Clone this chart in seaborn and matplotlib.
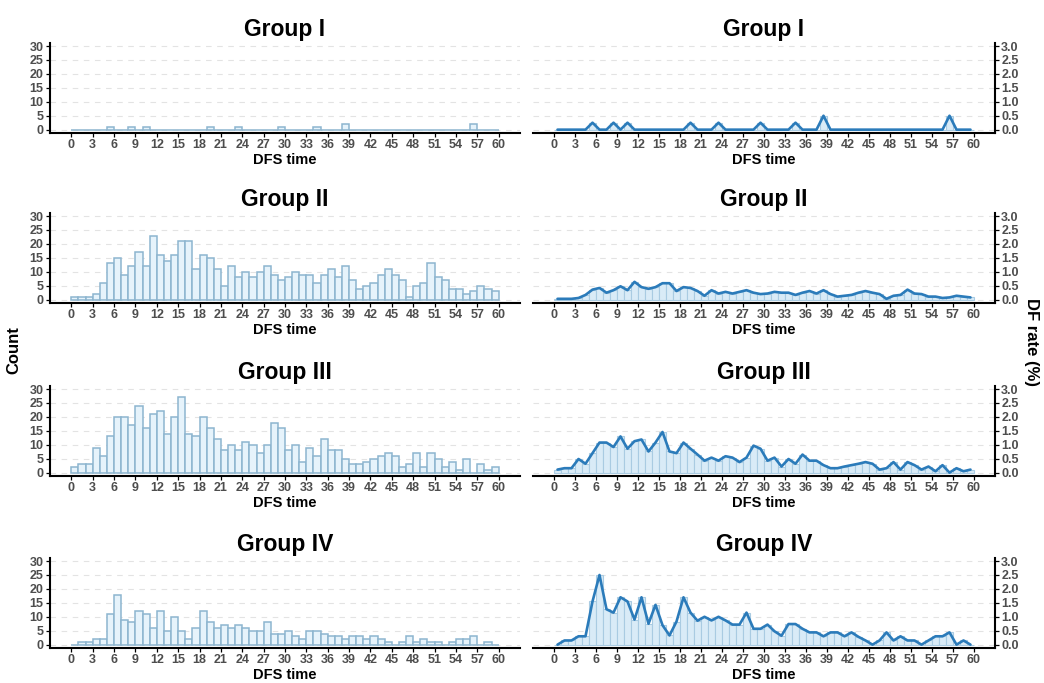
import numpy as np
import pandas as pd
import matplotlib
matplotlib.use("Agg")
import matplotlib.pyplot as plt
import seaborn as sns

sns.set_theme(style="white")
plt.rcParams['font.family'] = ['Liberation Sans', 'DejaVu Sans']
plt.rcParams['text.color'] = 'black'
plt.rcParams['axes.labelcolor'] = 'black'
plt.rcParams['axes.titlecolor'] = 'black'

groups = ["Group I", "Group II", "Group III", "Group IV"]
months = list(range(60))  # month bins [m, m+1)

count_I = [0, 0, 0, 0, 0, 1, 0, 0, 1, 0, 1, 0, 0, 0, 0, 0, 0, 0, 0, 1,
           0, 0, 0, 1, 0, 0, 0, 0, 0, 1, 0, 0, 0, 0, 1, 0, 0, 0, 2, 0,
           0, 0, 0, 0, 0, 0, 0, 0, 0, 0, 0, 0, 0, 0, 0, 0, 2, 0, 0, 0]
count_II = [1, 1, 1, 2, 6, 13, 15, 9, 12, 17, 12, 23, 16, 14, 16, 21, 21, 11, 16, 15,
            11, 5, 12, 8, 10, 8, 10, 12, 9, 7, 8, 10, 9, 9, 6, 9, 11, 8, 12, 7,
            4, 5, 6, 9, 11, 9, 7, 1, 5, 6, 13, 8, 7, 4, 4, 2, 3, 5, 4, 3]
count_III = [2, 3, 3, 9, 6, 13, 20, 20, 17, 24, 16, 21, 22, 14, 20, 27, 14, 13, 20, 16,
             12, 8, 10, 8, 11, 10, 7, 10, 18, 16, 8, 10, 4, 9, 6, 12, 8, 8, 5, 3,
             3, 4, 5, 6, 7, 6, 2, 3, 7, 2, 7, 5, 2, 4, 1, 5, 0, 3, 1, 2]
count_IV = [0, 1, 1, 2, 2, 11, 18, 9, 8, 12, 11, 6, 12, 5, 10, 5, 2, 6, 12, 8,
            6, 7, 6, 7, 6, 5, 5, 8, 4, 4, 5, 3, 2, 5, 5, 4, 3, 3, 2, 3,
            3, 2, 3, 2, 1, 0, 1, 3, 1, 2, 1, 1, 0, 1, 2, 2, 3, 0, 1, 0]

rate_I = [0, 0, 0, 0, 0, 0.25, 0, 0, 0.25, 0, 0.25, 0, 0, 0, 0, 0, 0, 0, 0, 0.25,
          0, 0, 0, 0.25, 0, 0, 0, 0, 0, 0.25, 0, 0, 0, 0, 0.25, 0, 0, 0, 0.5, 0,
          0, 0, 0, 0, 0, 0, 0, 0, 0, 0, 0, 0, 0, 0, 0, 0, 0.5, 0, 0, 0]
rate_II = [0.03, 0.03, 0.03, 0.06, 0.17, 0.36, 0.42, 0.25, 0.34, 0.48, 0.34, 0.64, 0.45, 0.39, 0.45,
           0.59, 0.59, 0.31, 0.45, 0.42, 0.31, 0.14, 0.34, 0.22, 0.28, 0.22, 0.28, 0.34, 0.25, 0.20,
           0.22, 0.28, 0.25, 0.25, 0.17, 0.25, 0.31, 0.22, 0.34, 0.20, 0.11, 0.14, 0.17, 0.25, 0.31,
           0.25, 0.20, 0.03, 0.14, 0.17, 0.36, 0.22, 0.20, 0.11, 0.11, 0.06, 0.08, 0.14, 0.11, 0.08]
rate_III = [0.11, 0.16, 0.16, 0.49, 0.32, 0.70, 1.08, 1.08, 0.92, 1.30, 0.86, 1.13, 1.19, 0.76, 1.08,
            1.46, 0.76, 0.70, 1.08, 0.86, 0.65, 0.43, 0.54, 0.43, 0.59, 0.54, 0.38, 0.54, 0.97, 0.86,
            0.43, 0.54, 0.22, 0.49, 0.32, 0.65, 0.43, 0.43, 0.27, 0.16, 0.16, 0.22, 0.27, 0.32, 0.38,
            0.32, 0.11, 0.16, 0.38, 0.11, 0.38, 0.27, 0.11, 0.22, 0.05, 0.27, 0.0, 0.16, 0.05, 0.11]
rate_IV = [0.0, 0.15, 0.15, 0.30, 0.30, 1.55, 2.50, 1.27, 1.15, 1.70, 1.55, 0.90, 1.70, 0.75, 1.43,
           0.70, 0.33, 0.83, 1.70, 1.15, 0.86, 1.00, 0.87, 1.00, 0.87, 0.72, 0.72, 1.15, 0.57, 0.57,
           0.72, 0.48, 0.32, 0.74, 0.74, 0.57, 0.44, 0.44, 0.30, 0.44, 0.44, 0.30, 0.44, 0.28, 0.15,
           0.0, 0.15, 0.44, 0.15, 0.30, 0.15, 0.15, 0.0, 0.15, 0.30, 0.30, 0.44, 0.0, 0.15, 0.0]

counts = [count_I, count_II, count_III, count_IV]
rates = [rate_I, rate_II, rate_III, rate_IV]

x_ticks = list(range(0, 61, 3))
count_ticks = [0, 5, 10, 15, 20, 25, 30]
rate_ticks = [0.0, 0.5, 1.0, 1.5, 2.0, 2.5, 3.0]

W, H = 1044, 683
fig = plt.figure(figsize=(W / 100, H / 100), dpi=100)

tops = [43, 213, 386, 558]
ax_h = 90
left_x = (50, 520)
right_x = (533, 995)

tick_color = "#4d4d4d"
bar_fill = "#e6f3fb"
bar_edge = "#8db5cf"
rbar_fill = "#d9ebf7"
rbar_edge = "#a9cbe2"
line_color = "#2b7bba"
grid_color = "#e3e3e3"


def make_ax(xr, top):
    return fig.add_axes([xr[0] / W, 1 - (top + ax_h) / H, (xr[1] - xr[0]) / W, ax_h / H])


def style(ax, yticks, ylim, side):
    ax.set_xlim(-3, 63)
    ax.set_ylim(*ylim)
    ax.set_xticks(x_ticks)
    ax.set_yticks(yticks)
    for y in yticks:
        ax.axhline(y, color=grid_color, lw=0.8, ls=(0, (5, 5)), zorder=0)
    for s in ax.spines.values():
        s.set_visible(False)
    ax.spines["bottom"].set_visible(True)
    ax.spines["bottom"].set_color("black")
    ax.spines["bottom"].set_linewidth(1.5)
    ax.spines[side].set_visible(True)
    ax.spines[side].set_color("black")
    ax.spines[side].set_linewidth(1.5)
    ax.tick_params(axis="both", which="both", length=3, width=0.9, color="black",
                   labelsize=9, labelcolor=tick_color, pad=1.5)
    ax.tick_params(axis="x", bottom=True)
    if side == "right":
        ax.yaxis.tick_right()
        ax.tick_params(axis="y", right=True, left=False)
    else:
        ax.tick_params(axis="y", left=True)
    for lab in ax.get_xticklabels() + ax.get_yticklabels():
        lab.set_fontweight("bold")
    ax.set_xlabel("DFS time", fontsize=10.5, fontweight="bold", labelpad=1, color="black")
    ax.set_ylabel("")
    ax.set_facecolor("white")


for i, g in enumerate(groups):
    df = pd.DataFrame({"month": [m + 0.5 for m in months], "count": counts[i], "rate": rates[i]})
    # Left: counts
    axl = make_ax(left_x, tops[i])
    sns.histplot(data=df, x="month", weights="count", bins=list(range(0, 61)), ax=axl,
                 color=bar_fill, edgecolor=bar_edge, linewidth=1.1, alpha=1, zorder=2)
    style(axl, count_ticks, (-1.2, 31.1), "left")
    axl.set_title(g, fontsize=16.5, fontweight="bold", pad=5, color="black")

    # Right: DF rate
    axr = make_ax(right_x, tops[i])
    sns.histplot(data=df, x="month", weights="rate", bins=list(range(0, 61)), ax=axr,
                 color=rbar_fill, edgecolor=rbar_edge, linewidth=0.8, alpha=1, zorder=2)
    sns.lineplot(data=df, x="month", y="rate", ax=axr, color=line_color, lw=1.9, zorder=3,
                 solid_joinstyle="round", solid_capstyle="round")
    style(axr, rate_ticks, (-0.12, 3.11), "right")
    axr.set_yticklabels([f"{t:.1f}" for t in rate_ticks], fontweight="bold")
    axr.set_title(g, fontsize=16.5, fontweight="bold", pad=5, color="black")

fig.text(14 / W, 1 - 350 / H, "Count", rotation=90, ha="center", va="center",
         fontsize=12, fontweight="bold", color="black")
fig.text(1031 / W, 1 - 342 / H, "DF rate (%)", rotation=-90, ha="center", va="center",
         fontsize=12, fontweight="bold", color="black")

fig.savefig("out.png", dpi=100, facecolor="white")
